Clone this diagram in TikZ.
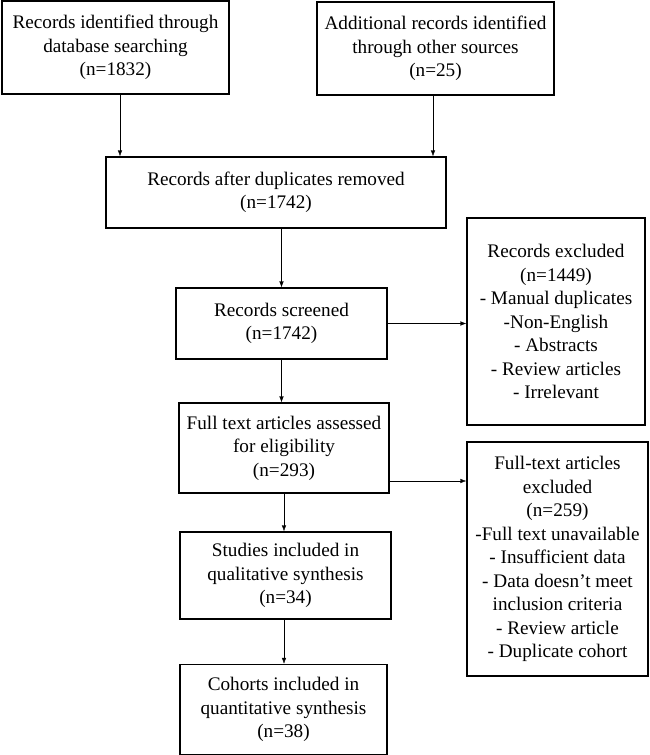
\documentclass[tikz,border=0pt]{standalone}
\usepackage{fontspec}
\setmainfont{Liberation Serif}
\usepackage{tikz}
\usetikzlibrary{arrows.meta}

\begin{document}
\begin{tikzpicture}[x=1pt,y=-1pt,
  box/.style={draw,line width=1.4pt,align=center,inner sep=0pt,font=\fontsize{19.2}{23.5}\selectfont},
  >={Latex[length=6pt,width=4.5pt]}]
\useasboundingbox (0,0) rectangle (649,755);
\node[box,minimum width=227,minimum height=93] (Ident) at (115.5,47.5) {Records identified through\\database searching\\(n=1832)};
\node[box,minimum width=237,minimum height=93] (Other) at (435.5,48.5) {Additional records identified\\through other sources\\(n=25)};
\node[box,minimum width=340,minimum height=71] (Dupl) at (276,192.5) {Records after duplicates removed\\(n=1742)};
\node[box,minimum width=211,minimum height=71] (Screen) at (281.5,323.5) {Records screened\\(n=1742)};
\node[box,minimum width=178,minimum height=207] (Excl) at (556,321.5) {Records excluded\\(n=1449)\\- Manual duplicates\\-Non-English\\- Abstracts\\- Review articles\\- Irrelevant};
\node[box,minimum width=210,minimum height=90] (Full) at (284,448) {Full text articles assessed\\for eligibility\\(n=293)};
\node[box,minimum width=181,minimum height=234] (FullEx) at (557.5,559) {Full-text articles\\excluded\\(n=259)\\-Full text unavailable\\- Insufficient data\\- Data doesn’t meet\\inclusion criteria\\- Review article\\- Duplicate cohort};
\node[box,minimum width=211,minimum height=87] (Qual) at (285.5,575.5) {Studies included in\\qualitative synthesis\\(n=34)};
\node[box,minimum width=207,minimum height=90] (Quant) at (283.5,709.5) {Cohorts included in\\quantitative synthesis\\(n=38)};
\draw [->] ([xshift=4.5]Ident.south) -- ([xshift=4.5]Ident.south |- Dupl.north);
\draw [->] ([xshift=-2.5]Other.south) -- ([xshift=-2.5]Other.south |- Dupl.north);
\draw [->] (Dupl.south -| Screen.north) -- (Screen.north);
\draw [->] (Screen.east) -- (Screen.east -| Excl.west);
\draw [->] (Screen.south) -- (Screen.south |- Full.north);
\draw [->] ([yshift=-33]Full.east) -- ([yshift=-33]Full.east -| FullEx.west);
\draw [->] (Full.south) -- (Full.south |- Qual.north);
\draw [->] (Qual.south -| Full.south) -- (Full.south |- Quant.north);
\end{tikzpicture}
\end{document}
